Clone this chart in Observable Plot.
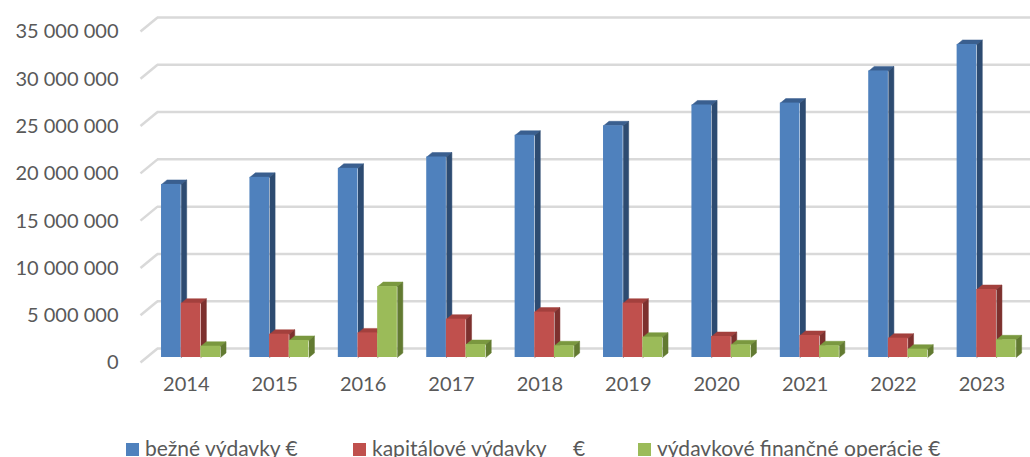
<!DOCTYPE html>
<html>
<head>
<meta charset="utf-8">
<script src="https://cdn.jsdelivr.net/npm/d3@7"></script>
<script src="https://cdn.jsdelivr.net/npm/@observablehq/plot@0.6"></script>
<style>
  html, body { margin: 0; padding: 0; background: #fff; overflow: hidden; }
  body { position: relative; width: 1030px; height: 457px; font-family: Lato, "Open Sans", sans-serif; }
  #legend { position: absolute; left: 0; top: 436px; width: 1030px; height: 24px; font-size: 21px; line-height: 24px; color: #595959; white-space: pre; }
  .item { position: absolute; top: 0; display: flex; align-items: center; }
  .sw { width: 13px; height: 13px; margin-right: 6px; margin-top: 3px; }
</style>
</head>
<body>
<div id="chart"></div>
<div id="legend"></div>
<script>
// ---- data ----
const years = [2014, 2015, 2016, 2017, 2018, 2019, 2020, 2021, 2022, 2023];
const bezneVydavky = [18300000, 19050000, 20000000, 21200000, 23500000, 24500000, 26700000, 26900000, 30300000, 33100000];
const kapitaloveVydavky = [5740000, 2460000, 2600000, 4050000, 4800000, 5740000, 2220000, 2330000, 2040000, 7190000];
const financneOperacie = [1190000, 1800000, 7500000, 1370000, 1240000, 2150000, 1340000, 1240000, 880000, 1870000];
const seriesNames = ["bežné výdavky €", "kapitálové výdavky     €", "výdavkové finančné operácie €"];
const yTicks = [0, 5000000, 10000000, 15000000, 20000000, 25000000, 30000000, 35000000];

// ---- styling ----
const colors = [
  {front: "#4f81bd", top: "#3a5f8f", side: "#2d4b71"},
  {front: "#c0504d", top: "#a3403d", side: "#7d302e"},
  {front: "#9bbb59", top: "#7a983f", side: "#627a31"}
];
const W = 1030, H = 425, MT = 26, MB = 68, ML = 146, MR = 0;
const plotW = W - ML - MR, plotH = H - MT - MB;
const uX = 10 / plotW;          // data units per pixel (x)
const uY = 35000000 / plotH;    // data units per pixel (y)
const barW = 0.2225, barOff = 0.17;
const dX = 5.5 * uX, dY = 4.5 * uY;

const seriesValues = [bezneVydavky, kapitaloveVydavky, financneOperacie];
const fmt = v => String(v).replace(/\B(?=(\d{3})+(?!\d))/g, " ");

const marks = [];
// back-wall gridlines
marks.push(Plot.ruleY(yTicks, {y: d => d + 9 * uY, x1: 11 * uX, x2: 10.1, stroke: "#d9d9d9", strokeWidth: 2.5}));
// side-wall diagonals
marks.push(Plot.link(yTicks, {x1: -6 * uX, y1: d => d - 5 * uY, x2: 11 * uX, y2: d => d + 9 * uY, stroke: "#d9d9d9", strokeWidth: 2.5}));

seriesValues.forEach((vals, s) => {
  const rows = vals.map((v, i) => {
    const x1 = i + barOff + s * barW;
    return {i, v, x1, x2: x1 + barW};
  });
  const topPts = rows.flatMap(r => [
    {id: r.i, x: r.x1, y: r.v},
    {id: r.i, x: r.x1 + dX, y: r.v + dY},
    {id: r.i, x: r.x2 + dX, y: r.v + dY},
    {id: r.i, x: r.x2, y: r.v}
  ]);
  const sidePts = rows.flatMap(r => [
    {id: r.i, x: r.x2, y: r.v},
    {id: r.i, x: r.x2 + dX, y: r.v + dY},
    {id: r.i, x: r.x2 + dX, y: dY},
    {id: r.i, x: r.x2, y: 0}
  ]);
  marks.push(Plot.line(topPts, {x: "x", y: "y", z: "id", fill: colors[s].top, stroke: colors[s].top, strokeWidth: 0.5}));
  marks.push(Plot.line(sidePts, {x: "x", y: "y", z: "id", fill: colors[s].side, stroke: colors[s].side, strokeWidth: 0.5}));
  marks.push(Plot.rect(rows, {x1: "x1", x2: "x2", y1: 0, y2: "v", fill: colors[s].front}));
});

// y tick labels
marks.push(Plot.text(yTicks, {y: d => d, frameAnchor: "left", textAnchor: "end", dx: -28, dy: 5.5, text: fmt, fill: "#595959"}));
// year labels
marks.push(Plot.text(years, {x: (d, i) => i + 0.45, frameAnchor: "bottom", dy: 33.5, text: d => String(d), fill: "#595959"}));

const chart = Plot.plot({
  width: W, height: H,
  marginTop: MT, marginBottom: MB, marginLeft: ML, marginRight: MR,
  x: {type: "linear", domain: [0, 10], axis: null},
  y: {type: "linear", domain: [0, 35000000], axis: null},
  style: {fontFamily: "Lato, 'Open Sans', sans-serif", fontSize: "20px", color: "#595959", background: "#fff", overflow: "visible"},
  marks
});
document.getElementById("chart").appendChild(chart);

// legend (HTML, below the SVG)
const legendLeft = [126, 353, 638];
const legend = document.getElementById("legend");
seriesNames.forEach((name, s) => {
  const it = document.createElement("div");
  it.className = "item";
  it.style.left = legendLeft[s] + "px";
  const sw = document.createElement("span");
  sw.className = "sw";
  sw.style.background = colors[s].front;
  const tx = document.createElement("span");
  tx.textContent = name;
  it.appendChild(sw);
  it.appendChild(tx);
  legend.appendChild(it);
});
</script>
</body>
</html>
